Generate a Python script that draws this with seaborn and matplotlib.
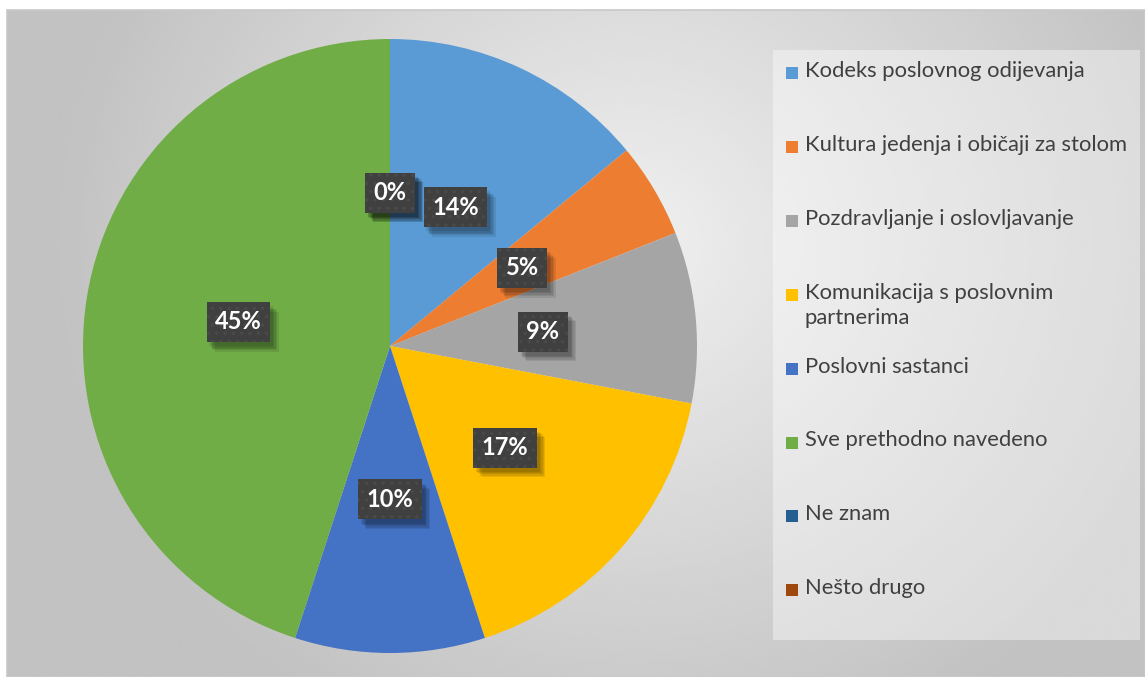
import numpy as np
import matplotlib
matplotlib.use("Agg")
import matplotlib.pyplot as plt
import matplotlib.patheffects as pe
from matplotlib.patches import Rectangle
import seaborn as sns

categories = [
    "Kodeks poslovnog odijevanja",
    "Kultura jedenja i običaji za stolom",
    "Pozdravljanje i oslovljavanje",
    "Komunikacija s poslovnim\npartnerima",
    "Poslovni sastanci",
    "Sve prethodno navedeno",
    "Ne znam",
    "Nešto drugo",
]
shares = [14, 5, 9, 17, 10, 45, 0, 0]
colors = ["#5B9BD5", "#ED7D31", "#A5A5A5", "#FFC000",
          "#4472C4", "#70AD47", "#255E91", "#9E480E"]

sns.set_theme(style="white")
plt.rcParams["font.family"] = ["Lato", "DejaVu Sans"]
plt.rcParams["hatch.linewidth"] = 1.2


class PlainShadow(pe.SimplePatchShadow):
    """Patch shadow drawn without the hatch of the source patch."""

    def draw_path(self, renderer, gc, tpath, affine, rgbFace):
        gc0 = renderer.new_gc()
        gc0.copy_properties(gc)
        gc0.set_hatch(None)
        super().draw_path(renderer, gc0, tpath, affine, rgbFace)
        gc0.restore()


W, H = 1145, 677
fig = plt.figure(figsize=(W / 100, H / 100), dpi=100)
fig.patch.set_facecolor("white")

# radial grey background of the chart area
bg = fig.add_axes([7 / W, 0, 1 - 7 / W, 1 - 10 / H], zorder=-5)
yy, xx = np.mgrid[0:1:400j, 0:1:700j]
d = np.sqrt(((xx - 0.55) * 1.6) ** 2 + ((yy - 0.35) * 1.0) ** 2)
shade = np.clip(0.94 - 0.22 * d, 0.76, 0.94)
bg.imshow(shade, cmap="gray", vmin=0, vmax=1, aspect="auto",
          extent=[0, 1, 0, 1], origin="upper", interpolation="bicubic")
bg.set_axis_off()
fig.add_artist(Rectangle((7 / W, 0), 1 - 7 / W, 1 - 10 / H,
                         transform=fig.transFigure, fill=False,
                         edgecolor="#c8c8c8", linewidth=1.2, zorder=-4))

# pie
R = 307
cx, cy = 390, 346
ax = fig.add_axes([(cx - R) / W, (H - cy - R) / H, 2 * R / W, 2 * R / H])
wedges, texts, autotexts = ax.pie(
    shares, colors=colors, startangle=90, counterclock=False,
    autopct="%.0f%%", pctdistance=0.5, radius=1,
    wedgeprops=dict(linewidth=0),
    textprops=dict(color="white", fontsize=17, fontweight="bold"),
)
ax.set_xlim(-1, 1)
ax.set_ylim(-1, 1)
ax.set_aspect("equal")
ax.set_axis_off()

soft_shadow = [PlainShadow(offset=(o, -o - 1), shadow_rgbFace="#000000", alpha=0.09)
               for o in (2, 3, 4, 5, 6)]
for t in autotexts:
    t.set_bbox(dict(boxstyle="square,pad=0.36", facecolor="#404040",
                    edgecolor="#4a4a4a", linewidth=0, hatch=".."))
    t.get_bbox_patch().set_path_effects(soft_shadow + [pe.Normal()])

# legend panel
lx0, ly0, lx1, ly1 = 773, 50, 1140, 640
lg = fig.add_axes([lx0 / W, (H - ly1) / H, (lx1 - lx0) / W, (ly1 - ly0) / H])
lg.set_facecolor((1, 1, 1, 0.4))
for s in lg.spines.values():
    s.set_visible(False)
lg.set_xticks([])
lg.set_yticks([])
lg.set_xlim(lx0, lx1)
lg.set_ylim(ly1, ly0)
step = 73.9
for i, (lab, col) in enumerate(zip(categories, colors)):
    yc = 73 + i * step
    lg.add_patch(Rectangle((786, yc - 6), 12, 12, facecolor=col, edgecolor="none"))
    lg.text(805, yc - 12, lab, fontsize=15.8, color="#404040",
            va="top", ha="left", linespacing=1.3)

fig.savefig("out.png", dpi=100)
